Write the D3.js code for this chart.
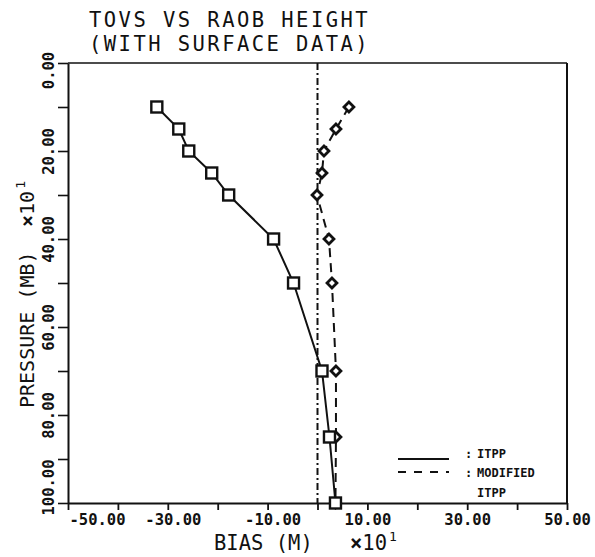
<!DOCTYPE html>
<html>
<head>
<meta charset="utf-8">
<script src="https://cdn.jsdelivr.net/npm/d3@7"></script>
<style>
  html, body { margin: 0; padding: 0; background: #fff; }
  svg { display: block; }
  text { font-family: "DejaVu Sans Mono", monospace; fill: #111; }
</style>
</head>
<body>
<svg id="chart" width="595" height="557"></svg>
<script>
// ---- data ----
const pressureLevels = [10, 15, 20, 25, 30, 40, 50, 70, 85, 100];   // x10 mb
const itppBias      = [-32.2, -27.8, -25.8, -21.2, -17.8, -8.8, -4.8, 0.9, 2.4, 3.6]; // x10 m
const modifiedBias  = [6.3, 3.7, 1.3, 0.9, -0.1, 2.3, 2.9, 3.7, 3.7, 3.6];
const xTickValues = [-50, -40, -30, -20, -10, 0, 10, 20, 30, 40, 50];
const xTickLabels = ["-50.00", "", "-30.00", "", "-10.00", "", "10.00", "", "30.00", "", "50.00"];
const yTickValues = [0, 10, 20, 30, 40, 50, 60, 70, 80, 90, 100];
const yTickLabels = ["0.00", "", "20.00", "", "40.00", "", "60.00", "", "80.00", "", "100.00"];
const titleLines = ["TOVS VS RAOB HEIGHT", "(WITH SURFACE DATA)"];
const legendItems = [["ITPP"], ["MODIFIED", "ITPP"]];

const svg = d3.select("#chart");
const ink = "#111";

const x = d3.scaleLinear().domain([-50, 50]).range([68, 567]);
const y = d3.scaleLinear().domain([0, 100]).range([63, 503]);

// title
titleLines.forEach((t, i) => {
  svg.append("text").attr("x", 89).attr("y", 27 + i * 24)
    .attr("font-size", 20.5).attr("letter-spacing", 2.45).text(t);
});

// frame (top and right)
svg.append("line").attr("x1", x(-50)).attr("x2", x(50)).attr("y1", y(0)).attr("y2", y(0))
  .attr("stroke", ink).attr("stroke-width", 1.6);
svg.append("line").attr("x1", x(50)).attr("x2", x(50)).attr("y1", y(0)).attr("y2", y(100))
  .attr("stroke", ink).attr("stroke-width", 2);

// x axis
const xAxis = svg.append("g").attr("transform", `translate(0,${y(100)})`)
  .call(d3.axisBottom(x).tickValues(xTickValues).tickSize(7).tickSizeOuter(0)
    .tickFormat((d, i) => xTickLabels[i]));
xAxis.select(".domain").attr("stroke", ink).attr("stroke-width", 1.8);
xAxis.selectAll(".tick line").attr("stroke", ink).attr("stroke-width", 1.8);
xAxis.selectAll(".tick text")
  .attr("font-family", "DejaVu Sans Mono").attr("font-weight", "bold").attr("font-size", 15.5)
  .attr("fill", ink).attr("y", 22).attr("dy", 0)
  .attr("dx", (d) => d < 0 ? 5 : 0)
  .attr("text-anchor", (d) => d === -50 ? "start" : "middle")
  .attr("x", (d) => d === -50 ? -4 : 0);

// y axis
const yAxis = svg.append("g").attr("transform", `translate(${x(-50)},0)`)
  .call(d3.axisLeft(y).tickValues(yTickValues).tickSize(10).tickSizeOuter(0)
    .tickFormat((d, i) => yTickLabels[i]));
yAxis.select(".domain").attr("stroke", ink).attr("stroke-width", 2);
yAxis.selectAll(".tick line").attr("stroke", ink).attr("stroke-width", 1.6);
yAxis.selectAll(".tick text")
  .attr("font-family", "DejaVu Sans Mono").attr("font-weight", "bold").attr("font-size", 15.5)
  .attr("fill", ink).attr("x", null).attr("dy", null)
  .attr("text-anchor", "middle")
  .attr("transform", (d) => {
    const off = d === 0 ? 7 : d === 100 ? -16 : 0;
    return `translate(-14,${off}) rotate(-90)`;
  });

// axis titles
const xt = svg.append("text").attr("x", 214).attr("y", 550).attr("font-size", 20.5);
xt.append("tspan").text("BIAS (M)");
const xm = svg.append("text").attr("x", 350).attr("y", 550).attr("font-size", 20.5);
xm.append("tspan").attr("font-weight", "bold").text("×");
xm.append("tspan").text("10");
xm.append("tspan").attr("font-size", 13).attr("dy", -9).attr("dx", 2).text("1");

const yt = svg.append("g").attr("transform", "translate(34,408) rotate(-90)");
const ytt = yt.append("text").attr("x", 0).attr("y", 0).attr("font-size", 20);
ytt.append("tspan").text("PRESSURE (MB)");
const ym = yt.append("text").attr("x", 181).attr("y", 0).attr("font-size", 20);
ym.append("tspan").attr("font-weight", "bold").text("×");
ym.append("tspan").text("10");
ym.append("tspan").attr("font-size", 13).attr("dy", -9).attr("dx", 2).text("1");

// zero reference line (dash-dot)
svg.append("line").attr("x1", x(0)).attr("x2", x(0)).attr("y1", y(0)).attr("y2", y(100))
  .attr("stroke", ink).attr("stroke-width", 2).attr("stroke-dasharray", "7,3,2,3");

const line = d3.line().x((d) => x(d[0])).y((d) => y(d[1]));
const itppPts = itppBias.map((b, i) => [b, pressureLevels[i]]);
const modPts = modifiedBias.map((b, i) => [b, pressureLevels[i]]);

// modified ITPP (dashed, diamonds)
svg.append("path").datum(modPts).attr("d", line).attr("fill", "none")
  .attr("stroke", ink).attr("stroke-width", 2).attr("stroke-dasharray", "9,6");
svg.selectAll(".dia").data(modPts).enter().append("path").attr("class", "dia")
  .attr("transform", (d) => `translate(${x(d[0])},${y(d[1])}) rotate(45)`)
  .attr("d", "M-3.5,-3.5H3.5V3.5H-3.5Z")
  .attr("fill", "#fff").attr("stroke", ink).attr("stroke-width", 2.8);

// ITPP (solid, squares)
svg.append("path").datum(itppPts).attr("d", line).attr("fill", "none")
  .attr("stroke", ink).attr("stroke-width", 2);
svg.selectAll(".sq").data(itppPts).enter().append("rect").attr("class", "sq")
  .attr("x", (d) => x(d[0]) - 5.5).attr("y", (d) => y(d[1]) - 5.5)
  .attr("width", 11).attr("height", 11)
  .attr("fill", "#fff").attr("stroke", ink).attr("stroke-width", 2.4);

// legend
svg.append("line").attr("x1", 398).attr("x2", 449).attr("y1", 459).attr("y2", 459)
  .attr("stroke", ink).attr("stroke-width", 1.8);
svg.append("line").attr("x1", 398).attr("x2", 449).attr("y1", 472).attr("y2", 472)
  .attr("stroke", ink).attr("stroke-width", 1.8).attr("stroke-dasharray", "8,8");
const lg = [[legendItems[0][0], 458, true], [legendItems[1][0], 477, true], [legendItems[1][1], 497, false]];
lg.forEach(([t, yy, colon]) => {
  if (colon) svg.append("text").attr("x", 465).attr("y", yy).attr("font-size", 12)
    .attr("font-weight", "bold").text(":");
  svg.append("text").attr("x", 477).attr("y", yy).attr("font-size", 12)
    .attr("font-weight", "bold").text(t);
});
</script>
</body>
</html>
